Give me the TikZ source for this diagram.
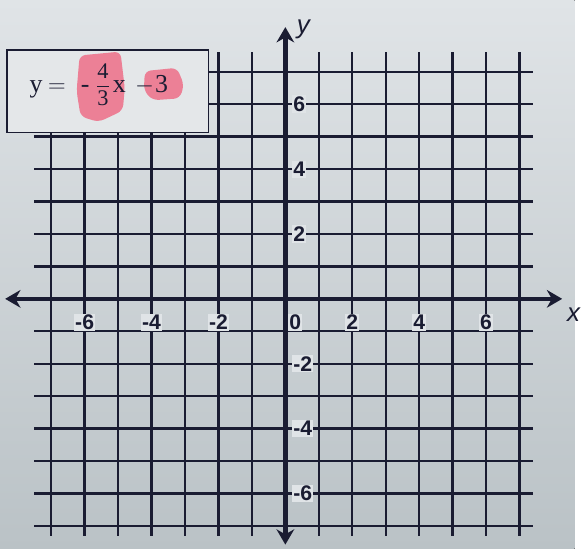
\documentclass[tikz,border=0pt]{standalone}
\usepackage{amsmath}
\usepackage{fontspec}
\setmainfont{Liberation Serif}
\newfontfamily\lblfont{Liberation Sans}
\usetikzlibrary{arrows.meta}
\definecolor{papertop}{RGB}{224,228,231}
\definecolor{paperbot}{RGB}{186,194,198}
\definecolor{boxfill}{RGB}{228,231,233}
\definecolor{ink}{RGB}{26,28,50}
\definecolor{hlpink}{RGB}{236,128,150}
\tikzset{
  gridline/.style={ink, line width=2pt},
  axisline/.style={ink, line width=3.8pt,
    {Stealth[length=13pt,width=15pt]}-{Stealth[length=13pt,width=15pt]}},
  ticklbl/.style={font=\lblfont\bfseries\fontsize{18}{20}\selectfont,
    text=ink, fill=papertop, inner sep=1pt},
  axislbl/.style={font=\lblfont\itshape\fontsize{22}{24}\selectfont, text=ink},
  eqbox/.style={draw=ink, line width=1.3pt, fill=boxfill,
    minimum width=6.03cm, minimum height=2.46cm, inner sep=0pt},
  eqtxt/.style={font=\fontsize{22}{26}\selectfont, text=ink, inner sep=0pt},
  fractxt/.style={font=\fontsize{19}{22}\selectfont, text=ink, inner sep=0pt},
  hilite/.style={fill=hlpink, rounded corners=5pt}
}

\begin{document}
\begin{tikzpicture}[x=1cm, y=0.97cm]

  %% paper
  \fill[top color=papertop, bottom color=paperbot]
      (-8.53,-7.70) rectangle (8.65,9.21);

  %% grid
  \foreach \i in {-7,...,7}
    \draw[gridline] (\i,-7.3) -- (\i,7.6);
  \foreach \j in {-7,...,7}
    \draw[gridline] (-7.5,\j) -- (7.4,\j);

  %% axes
  \node[inner sep=0pt] (xl) at (-8.4,0) {};
  \node[inner sep=0pt] (xr) at (8.3,0) {};
  \node[inner sep=0pt] (yb) at (0,-7.6) {};
  \node[inner sep=0pt] (yt) at (0,8.4) {};
  \draw[axisline] (xl) -- (xr);
  \draw[axisline] (yb) -- (yt);
  \node[axislbl, anchor=west] (xname) at (8.3,-0.5) {x};
  \node[axislbl, anchor=west] (yname) at (0.22,8.3) {y};

  %% tick labels
  \foreach \v [count=\k] in {-6,-4,-2,2,4,6}
    \node[ticklbl] (xt\k) at (\v,-0.72) {\v};
  \node[ticklbl] (xt0) at (0.3,-0.72) {0};
  \foreach \v [count=\k] in {-6,-4,-2,2,4,6}
    \node[ticklbl, anchor=west] (yt\k) at (0.2,\v) {\v};

  %% equation box
  \node[eqbox] (box) at (-5.31,6.4) {};
  \fill[hilite] (-6.15,7.5) -- (-4.93,7.62) -- (-4.8,6.5) -- (-4.86,5.8)
      -- (-5.58,5.45) -- (-6.12,5.62) -- (-6.24,6.4) -- cycle;
  \fill[hilite] (-4.2,7.02) -- (-3.24,7.12) -- (-3.03,6.6) -- (-3.15,6.18)
      -- (-3.97,6.12) -- (-4.23,6.42) -- cycle;
  \node[eqtxt, anchor=base west] (eqy)   at (-7.65,6.36) {y};
  \node[eqtxt, anchor=base west] (eqeq)  at (-7.1,6.36)  {$=$};
  \node[eqtxt, anchor=base west] (eqdash) at (-6.12,6.36) {-};
  \node[fractxt] (eqfrac) at (-5.45,6.6)
      {$\dfrac{\text{4}}{\text{3}}$};
  \node[eqtxt, anchor=base west] (eqx)   at (-5.16,6.36) {x};
  \node[eqtxt, anchor=base west] (eqmin) at (-4.5,6.36)  {$-$};
  \node[eqtxt, anchor=base west] (eqc)   at (-3.9,6.36)  {3};

\end{tikzpicture}
\end{document}
